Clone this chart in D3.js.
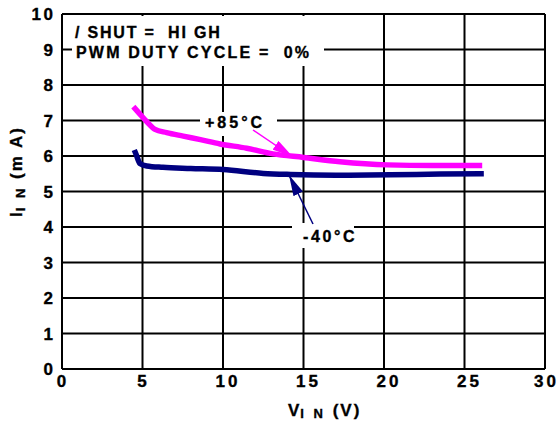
<!DOCTYPE html>
<html><head><meta charset="utf-8">
<script src="https://cdn.jsdelivr.net/npm/d3@7"></script>
<style>body{margin:0;background:#fff}svg{display:block}text{font-family:"Liberation Sans",Arial,sans-serif;font-weight:bold;fill:#000;stroke:#000;stroke-width:0.35px;white-space:pre}</style>
</head><body><svg id="c" width="560" height="421"></svg>
<script>
const xTicks=[0,5,10,15,20,25,30];
const yTicks=[0,1,2,3,4,5,6,7,8,9,10];
const hotV=[4.43,4.8,5.3,5.78,6.5,7.53,8.6,9.81,11.47,13.1,15.0,17.27,20.2,23,26.1];
const hotI=[7.39,7.2,6.95,6.75,6.66,6.56,6.46,6.34,6.22,6.06,5.96,5.84,5.75,5.73,5.73];
const coldV=[4.49,4.6,4.84,5.26,6.27,8.0,10.0,12.5,14.2,17.0,20.4,23.5,26.2];
const coldI=[6.17,6.05,5.79,5.72,5.68,5.65,5.62,5.51,5.48,5.46,5.47,5.49,5.50];
const svg=d3.select("#c");
const L=62,R=545,T=14,B=369;
const x=d3.scaleLinear().domain([0,30]).range([L,R]);
const y=d3.scaleLinear().domain([0,10]).range([B,T]);
const g=svg.append("g");
// grid
g.selectAll(".vg").data(xTicks).enter().append("line").attr("x1",d=>x(d)).attr("x2",d=>x(d)).attr("y1",T).attr("y2",B).attr("stroke","#000").attr("stroke-width",2);
g.selectAll(".hg").data(yTicks).enter().append("line").attr("y1",d=>y(d)).attr("y2",d=>y(d)).attr("x1",L).attr("x2",R).attr("stroke","#000").attr("stroke-width",2);
// white boxes behind labels
svg.append("rect").attr("x",72).attr("y",16).attr("width",252).attr("height",50).attr("fill","#fff");
svg.append("rect").attr("x",200).attr("y",112).attr("width",77).attr("height",24).attr("fill","#fff");
svg.append("rect").attr("x",292).attr("y",223).attr("width",62).attr("height",25).attr("fill","#fff");
// tick labels
svg.selectAll(".xl").data(xTicks).enter().append("text").attr("x",d=>x(d)+(d===30?1.5:(d>=10?5:1))).attr("y",387).attr("text-anchor","middle").attr("font-size",17).attr("letter-spacing",3).text(d=>d);
svg.selectAll(".yl").data(yTicks).enter().append("text").attr("x",53).attr("y",d=>y(d)+6).attr("text-anchor","end").attr("font-size",17).attr("letter-spacing",2.5).attr("dx",2.5).text(d=>d);
// curves
const line=d3.line().x(d=>x(d[0])).y(d=>y(d[1])).curve(d3.curveMonotoneX);
svg.append("path").datum(hotV.map((v,i)=>[v,hotI[i]])).attr("d",line).attr("fill","none").attr("stroke","#ff00ff").attr("stroke-width",5.5);
svg.append("path").datum(coldV.map((v,i)=>[v,coldI[i]])).attr("d",line).attr("fill","none").attr("stroke","#000080").attr("stroke-width",5.5);
// arrows
const defs=svg.append("defs");
defs.append("marker").attr("id","am").attr("viewBox","0 0 20 10").attr("refX",20).attr("refY",5).attr("markerWidth",21).attr("markerHeight",10.5).attr("markerUnits","userSpaceOnUse").attr("orient","auto").append("path").attr("d","M0,0L20,5L0,10z").attr("fill","#ff00ff");
defs.append("marker").attr("id","an").attr("viewBox","0 0 20 10").attr("refX",20).attr("refY",5).attr("markerWidth",21).attr("markerHeight",10.5).attr("markerUnits","userSpaceOnUse").attr("orient","auto").append("path").attr("d","M0,0L20,5L0,10z").attr("fill","#000080");
svg.append("line").attr("x1",253).attr("y1",130).attr("x2",293).attr("y2",157).attr("stroke","#ff00ff").attr("stroke-width",1.5).attr("marker-end","url(#am)");
svg.append("line").attr("x1",313).attr("y1",224).attr("x2",289).attr("y2",175).attr("stroke","#000080").attr("stroke-width",1.5).attr("marker-end","url(#an)");
// annotations
svg.append("text").attr("x",75).attr("y",38).attr("font-size",16).attr("letter-spacing",1.8).text("/ SHUT =  HI GH");
svg.append("text").attr("x",76).attr("y",58).attr("font-size",16).attr("letter-spacing",2.2).text("PWM DUTY CYCLE =  0%");
svg.append("text").attr("x",205).attr("y",128).attr("font-size",16).attr("letter-spacing",3).text("+85°C");
svg.append("text").attr("x",303).attr("y",242).attr("font-size",16).attr("letter-spacing",2.6).text("-40°C");
// axis titles
const xt=svg.append("text").attr("x",288).attr("y",416).attr("font-size",17).attr("letter-spacing",1);
xt.append("tspan").text("V");
xt.append("tspan").attr("font-size",13).attr("dy",2).attr("letter-spacing",3).text("I N");
xt.append("tspan").attr("dy",-2).attr("letter-spacing",2).text(" (V)");
const yt=svg.append("text").attr("transform","translate(22,217) rotate(-90)").attr("font-size",17).attr("letter-spacing",1);
yt.append("tspan").text("I");
yt.append("tspan").attr("font-size",13).attr("dy",3).attr("letter-spacing",3).text("I N");
yt.append("tspan").attr("dy",-3).attr("letter-spacing",2).text(" (m A)");
</script></body></html>
